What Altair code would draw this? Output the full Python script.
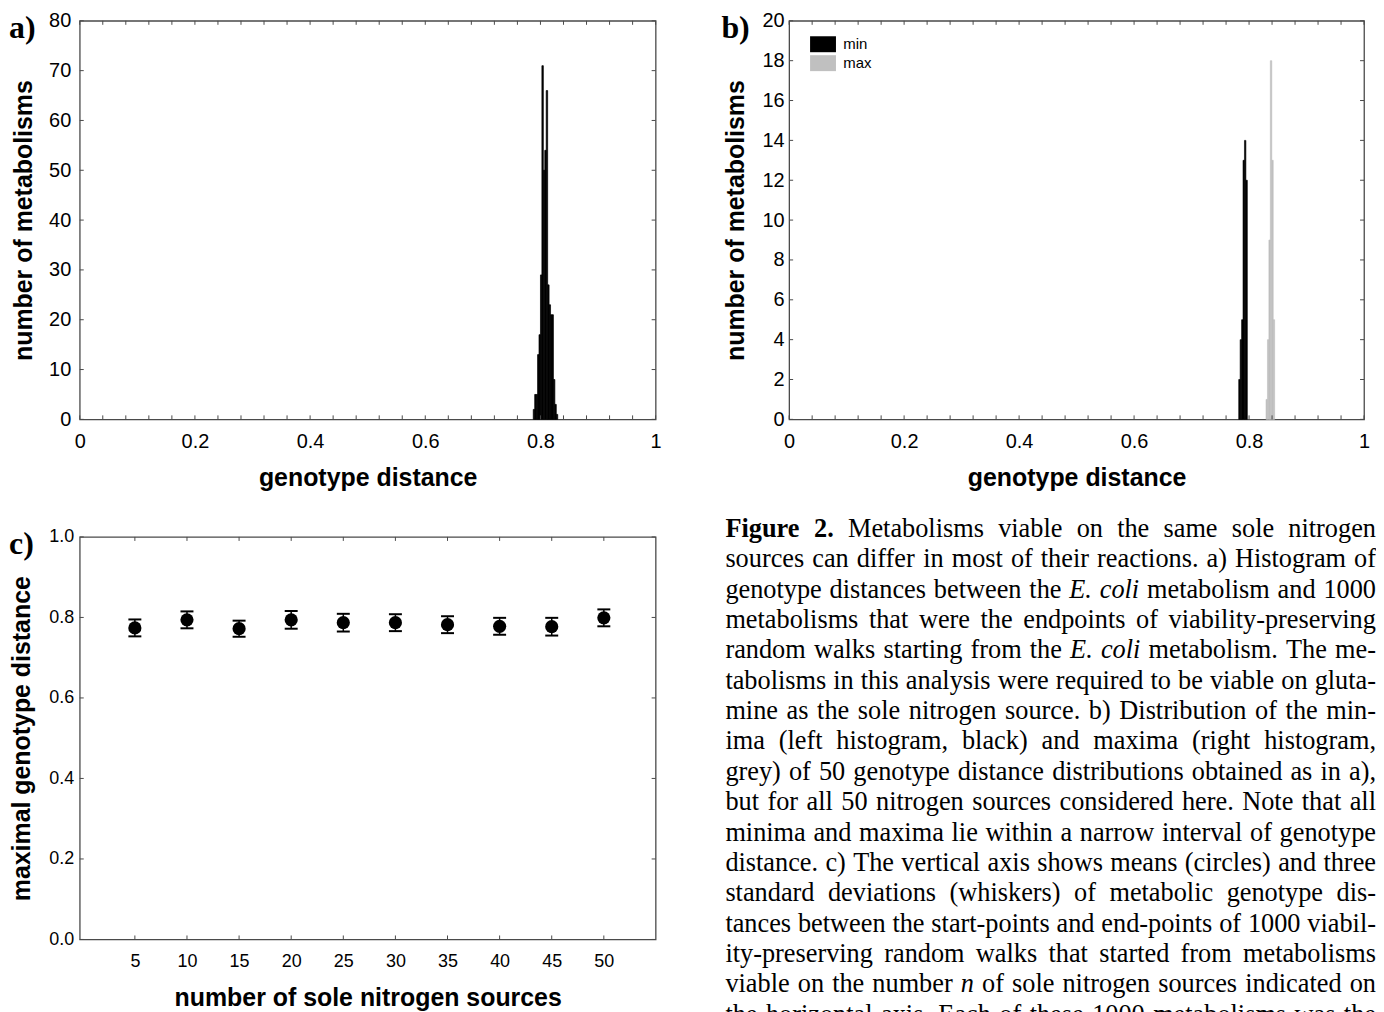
import altair as alt
import pandas as pd

# ---------------- data ----------------
# panel a: histogram of genotype distances (bin starts, counts)
a_bin_start = [0.7875, 0.7900, 0.7925, 0.7950, 0.7975, 0.8000, 0.8025, 0.8050, 0.8075,
               0.8100, 0.8125, 0.8150, 0.8175, 0.8200, 0.8225, 0.8250, 0.8275]
a_counts = [2, 5, 5, 13, 17, 29, 71, 50, 54, 66, 27, 23, 21, 21, 8, 3, 1]
BIN_A = 0.0025

# panel b: minima (black) and maxima (grey)
b_min_start = [0.7820, 0.7845, 0.7870, 0.7895, 0.7920, 0.7945]
b_min_counts = [2, 4, 5, 13, 14, 12]
b_max_start = [0.8295, 0.8320, 0.8345, 0.8370, 0.8395, 0.8420]
b_max_counts = [1, 4, 9, 18, 13, 5]
BIN_B = 0.0025
b_series = ["min", "max"]

# panel c: mean and 3 SD of maximal genotype distance
c_sources = [5, 10, 15, 20, 25, 30, 35, 40, 45, 50]
c_mean = [0.774, 0.794, 0.772, 0.794, 0.787, 0.787, 0.782, 0.778, 0.777, 0.799]
c_err = [0.021, 0.021, 0.020, 0.022, 0.022, 0.021, 0.021, 0.021, 0.022, 0.021]

# tick labels
ab_x_labels = [0, 0.2, 0.4, 0.6, 0.8, 1]
ab_x_minor = [i / 25 for i in range(26)]
a_y_labels = [0, 10, 20, 30, 40, 50, 60, 70, 80]
b_y_labels = [0, 2, 4, 6, 8, 10, 12, 14, 16, 18, 20]
c_y_labels = [0.0, 0.2, 0.4, 0.6, 0.8, 1.0]

caption_lines = [
    "**Figure** **2.** Metabolisms viable on the same sole nitrogen",
    "sources can differ in most of their reactions. a) Histogram of",
    "genotype distances between the _E._ _coli_ metabolism and 1000",
    "metabolisms that were the endpoints of viability-preserving",
    "random walks starting from the _E._ _coli_ metabolism. The me-",
    "tabolisms in this analysis were required to be viable on gluta-",
    "mine as the sole nitrogen source. b) Distribution of the min-",
    "ima (left histogram, black) and maxima (right histogram,",
    "grey) of 50 genotype distance distributions obtained as in a),",
    "but for all 50 nitrogen sources considered here. Note that all",
    "minima and maxima lie within a narrow interval of genotype",
    "distance. c) The vertical axis shows means (circles) and three",
    "standard deviations (whiskers) of metabolic genotype dis-",
    "tances between the start-points and end-points of 1000 viabil-",
    "ity-preserving random walks that started from metabolisms",
    "viable on the number _n_ of sole nitrogen sources indicated on",
    "the horizontal axis. Each of these 1000 metabolisms was the",
]

# ---------------- styling ----------------
SANS = "Liberation Sans"
SERIF = "Liberation Serif"
FRAME = "#4a4a4a"
W_A, H_A = 578, 400
W_B = 577
W_C, H_C = 578, 404
CAP_W = 653
COL_GAP = 134
TICK_L = 4


def x_axis(values, fmt, title, W, title_y, lsize, lpad):
    return alt.Axis(values=values, format=fmt, title=title, ticks=False, tickSize=0,
                    domain=False, grid=False, labelFont=SANS, labelFontSize=lsize,
                    labelColor="black", labelPadding=lpad, labelFlush=False,
                    labelOverlap=False, titleFont=SANS, titleFontSize=25,
                    titleFontWeight="bold", titleColor="black", titleX=W / 2,
                    titleY=title_y, titleBaseline="alphabetic", titleAlign="center")


def y_axis(values, fmt, title, H, title_x, lsize, lpad):
    return alt.Axis(values=values, format=fmt, title=title, ticks=False, tickSize=0,
                    domain=False, grid=False, labelFont=SANS, labelFontSize=lsize,
                    labelColor="black", labelPadding=lpad, labelFlush=False,
                    labelOverlap=False, titleFont=SANS, titleFontSize=25,
                    titleFontWeight="bold", titleColor="black", titleX=title_x,
                    titleY=H / 2, titleBaseline="alphabetic", titleAlign="center")


def frame_ticks(xvals, yvals, xscale, yscale, xax, yax, W, H):
    dx = pd.DataFrame({"tx": xvals})
    dy = pd.DataFrame({"ty": yvals})
    st = dict(color=FRAME, strokeWidth=1)
    bx = alt.Chart(dx).mark_rule(**st).encode(
        x=alt.X("tx:Q", scale=xscale, axis=xax), y=alt.value(H), y2=alt.value(H - TICK_L))
    tx = alt.Chart(dx).mark_rule(**st).encode(
        x=alt.X("tx:Q", scale=xscale, axis=xax), y=alt.value(0), y2=alt.value(TICK_L))
    ly = alt.Chart(dy).mark_rule(**st).encode(
        y=alt.Y("ty:Q", scale=yscale, axis=yax), x=alt.value(0), x2=alt.value(TICK_L))
    ry = alt.Chart(dy).mark_rule(**st).encode(
        y=alt.Y("ty:Q", scale=yscale, axis=yax), x=alt.value(W), x2=alt.value(W - TICK_L))
    return [bx, tx, ly, ry]


def panel_label(txt, dx, dy):
    return alt.Chart(pd.DataFrame({"t": [txt]})).mark_text(
        font=SERIF, fontWeight="bold", fontSize=32, align="left",
        baseline="alphabetic", color="black").encode(
        text="t:N", x=alt.value(dx), y=alt.value(dy))


# ---------------- panel a ----------------
xs_ab = alt.Scale(domain=[0, 1], nice=False, zero=False)
ys_a = alt.Scale(domain=[0, 80], nice=False)
ax_a_x = x_axis(ab_x_labels, "~g", "genotype distance", W_A, 66, 20, 12)
ax_a_y = y_axis(a_y_labels, "d", "number of metabolisms", H_A, -48, 20, 9)
a_df = pd.DataFrame({"s": a_bin_start, "e": [v + BIN_A for v in a_bin_start], "c": a_counts})
a_bars = alt.Chart(a_df).mark_bar(color="black", stroke="black", strokeWidth=0.7).encode(
    x=alt.X("s:Q", scale=xs_ab, axis=ax_a_x),
    x2="e:Q",
    y=alt.Y("c:Q", scale=ys_a, axis=ax_a_y),
    y2=alt.datum(0),
)
panel_a = alt.layer(
    a_bars, *frame_ticks(ab_x_minor, a_y_labels, xs_ab, ys_a, ax_a_x, ax_a_y, W_A, H_A),
    panel_label("a)", -71, 17)
).properties(width=W_A, height=H_A)

# ---------------- panel b ----------------
ys_b = alt.Scale(domain=[0, 20], nice=False)
ax_b_x = x_axis(ab_x_labels, "~g", "genotype distance", W_B, 66, 20, 12)
ax_b_y = y_axis(b_y_labels, "d", "number of metabolisms", H_A, -46, 20, 5)
b_df = pd.DataFrame({
    "s": b_min_start + b_max_start,
    "e": [v + BIN_B for v in b_min_start + b_max_start],
    "c": b_min_counts + b_max_counts,
    "series": ["min"] * len(b_min_start) + ["max"] * len(b_max_start),
})
LEG_PATH = "M-1.333,-0.821L1.333,-0.821L1.333,0.821L-1.333,0.821Z"
b_scale = alt.Scale(domain=b_series, range=["#000000", "#c0c0c0"])
b_bars = alt.Chart(b_df).mark_bar(strokeWidth=0.6).encode(
    x=alt.X("s:Q", scale=xs_ab, axis=ax_b_x),
    x2="e:Q",
    y=alt.Y("c:Q", scale=ys_b, axis=ax_b_y),
    y2=alt.datum(0),
    color=alt.Color("series:N", scale=b_scale,
                    legend=alt.Legend(title=None, orient="none",
                                      legendX=W_A + COL_GAP + 24, legendY=13.5,
                                      symbolType=LEG_PATH, symbolSize=380, symbolStrokeWidth=0,
                                      symbolOffset=0, labelFont=SANS, labelFontSize=15,
                                      labelColor="black", labelOffset=10.25, rowPadding=0,
                                      padding=0)),
    stroke=alt.Stroke("series:N", scale=b_scale, legend=None),
)
panel_b = alt.layer(
    b_bars, *frame_ticks(ab_x_minor, b_y_labels, xs_ab, ys_b, ax_b_x, ax_b_y, W_B, H_A),
    panel_label("b)", -68, 17)
).properties(width=W_B, height=H_A)

# ---------------- panel c ----------------
xs_c = alt.Scale(domain=[-0.29, 54.97], nice=False, zero=False)
ys_c = alt.Scale(domain=[0, 1], nice=False)
ax_c_x = x_axis(c_sources, "d", "number of sole nitrogen sources", W_C, 66, 18, 13)
ax_c_y = y_axis(c_y_labels, ".1f", "maximal genotype distance", H_C, -50, 18, 6)
c_df = pd.DataFrame({
    "n": c_sources, "m": c_mean,
    "lo": [m - e for m, e in zip(c_mean, c_err)],
    "hi": [m + e for m, e in zip(c_mean, c_err)],
})
c_rule = alt.Chart(c_df).mark_rule(color="black", strokeWidth=1.5).encode(
    x=alt.X("n:Q", scale=xs_c, axis=ax_c_x),
    y=alt.Y("lo:Q", scale=ys_c, axis=ax_c_y),
    y2="hi:Q",
)
CAP = "M-1,0L1,0"
c_cap_lo = alt.Chart(c_df).mark_point(shape=CAP, filled=False, size=169, strokeWidth=2,
                                      color="black", opacity=1).encode(
    x=alt.X("n:Q", scale=xs_c, axis=ax_c_x), y=alt.Y("lo:Q", scale=ys_c, axis=ax_c_y))
c_cap_hi = alt.Chart(c_df).mark_point(shape=CAP, filled=False, size=169, strokeWidth=2,
                                      color="black", opacity=1).encode(
    x=alt.X("n:Q", scale=xs_c, axis=ax_c_x), y=alt.Y("hi:Q", scale=ys_c, axis=ax_c_y))
c_pts = alt.Chart(c_df).mark_circle(size=175, color="black", opacity=1).encode(
    x=alt.X("n:Q", scale=xs_c, axis=ax_c_x), y=alt.Y("m:Q", scale=ys_c, axis=ax_c_y))
panel_c = alt.layer(
    c_rule, c_cap_lo, c_cap_hi, c_pts,
    *frame_ticks(c_sources, c_y_labels, xs_c, ys_c, ax_c_x, ax_c_y, W_C, H_C),
    panel_label("c)", -71, 17)
).properties(width=W_C, height=H_C)

# ---------------- caption (justified text) ----------------
TR = {' ': 250, '(': 333, ')': 333, ',': 250, '-': 333, '.': 250, ':': 278}
for d in "0123456789":
    TR[d] = 500
TR.update({'a': 444, 'b': 500, 'c': 444, 'd': 500, 'e': 444, 'f': 333, 'g': 500, 'h': 500,
           'i': 278, 'j': 278, 'k': 500, 'l': 278, 'm': 778, 'n': 500, 'o': 500, 'p': 500,
           'q': 500, 'r': 333, 's': 389, 't': 278, 'u': 500, 'v': 500, 'w': 722, 'x': 500,
           'y': 500, 'z': 444, 'A': 722, 'B': 667, 'C': 667, 'D': 722, 'E': 611, 'F': 556,
           'G': 722, 'H': 722, 'I': 333, 'J': 389, 'K': 722, 'L': 611, 'M': 889, 'N': 722,
           'O': 722, 'P': 556, 'Q': 722, 'R': 667, 'S': 556, 'T': 611, 'U': 722, 'V': 722,
           'W': 944, 'X': 722, 'Y': 722, 'Z': 611})
TB = {'F': 611, 'i': 278, 'g': 500, 'u': 556, 'r': 444, 'e': 444, '2': 500, '.': 250}
TI = {'E': 611, '.': 250, 'c': 444, 'o': 500, 'l': 278, 'i': 278, 'n': 500}
FS_CAP = 26.4
LINE_H = 30.47
CAP_SHIFT = -64  # caption starts 64px left of panel b's column


def text_w(s, style):
    tab = TB if style == "b" else (TI if style == "i" else TR)
    return sum(tab.get(ch, TR.get(ch, 500)) for ch in s) * FS_CAP / 1000.0


rows = []
for i, line in enumerate(caption_lines):
    toks = []
    for t in line.split(" "):
        if t.startswith("**"):
            toks.append((t.strip("*"), "b"))
        elif t.startswith("_"):
            toks.append((t.strip("_"), "i"))
        else:
            toks.append((t, "n"))
    widths = [text_w(t, s) for t, s in toks]
    gap = (CAP_W - sum(widths)) / (len(toks) - 1)
    xpos = 0.0
    for (t, s), w in zip(toks, widths):
        rows.append({"w": t, "s": s, "px": xpos + CAP_SHIFT, "py": i * LINE_H})
        xpos += w + gap
cap_df = pd.DataFrame(rows)


def cap_layer(style, **kw):
    return alt.Chart(cap_df[cap_df["s"] == style]).mark_text(
        font=SERIF, fontSize=FS_CAP, align="left", baseline="alphabetic", color="black", **kw
    ).encode(x=alt.X("px:Q", scale=None, axis=None), y=alt.Y("py:Q", scale=None, axis=None),
             text="w:N")


caption = alt.layer(
    cap_layer("n"), cap_layer("i", fontStyle="italic"), cap_layer("b", fontWeight="bold")
).properties(width=W_B, height=H_C, view=alt.ViewBackground(strokeOpacity=0))

chart = alt.concat(
    panel_a, panel_b, panel_c, caption, columns=2,
    spacing={"row": 118, "column": COL_GAP}, bounds="flush"
).properties(padding=0).configure(font=SANS).configure_view(
    stroke=FRAME, strokeWidth=1.3, strokeOpacity=1
)

chart.save("out.html", embed_options={"renderer": "svg", "actions": False})
